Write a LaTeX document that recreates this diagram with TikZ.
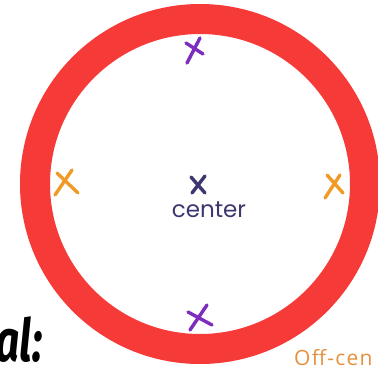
\documentclass[tikz,border=0pt]{standalone}
\usepackage{fontspec}
\setmainfont{Fira Sans}
\newfontfamily\labelfont[LetterSpace=6]{Open Sans}
\newfontfamily\handfont{Poppins}
\definecolor{ringred}{RGB}{245,58,56}
\definecolor{markpurple}{RGB}{125,45,190}
\definecolor{markorange}{RGB}{240,155,40}
\definecolor{marknavy}{RGB}{60,55,110}
\definecolor{textorange}{RGB}{230,145,65}
\tikzset{
  ringstyle/.style={draw=ringred, line width=30pt},
  crossstroke/.style={line width=3.4pt, line cap=round},
  purplemark/.style={crossstroke, draw=markpurple},
  orangemark/.style={crossstroke, draw=markorange},
  navymark/.style={crossstroke, draw=marknavy},
}
\begin{document}
\begin{tikzpicture}[x=1pt,y=-1pt]
\useasboundingbox (0,0) rectangle (378,370);
\clip (0,0) rectangle (378,370);
\fill[white] (0,0) rectangle (378,370);
% ring
\coordinate (c) at (200,184);
\draw[ringstyle] (c) circle[radius=165pt];
% marks
\coordinate (top) at (194,50);
\coordinate (bottom) at (200,317);
\coordinate (left) at (66,183);
\coordinate (right) at (334,186);
\coordinate (mid) at (198,185);
\draw[purplemark] (top) ++(6,-12) -- ++(-13,25);
\draw[purplemark] (top) ++(-8,-7) -- ++(17,11);
\draw[purplemark] (bottom) ++(7,-12) -- ++(-17,25);
\draw[purplemark] (bottom) ++(-12,-5) -- ++(24,13);
\draw[orangemark] (left) ++(6,-13) -- ++(-17,25);
\draw[orangemark] (left) ++(-9,-10) -- ++(21,20);
\draw[orangemark] (right) ++(6,-11) -- ++(-15,23);
\draw[orangemark] (right) ++(-7,-11) -- ++(16,18);
\draw[navymark] (mid) ++(7,-9) -- ++(-13,17);
\draw[navymark] (mid) ++(-7,-8) -- ++(14,16);
% texts
\node[anchor=base, text=marknavy, font=\handfont\fontsize{23}{23}\selectfont, inner sep=0] (centerlabel) at (209,217) {center};
\node[anchor=base east, text=black, font=\bfseries\itshape\fontsize{59}{59}\selectfont, inner sep=0] (goal) at (43,361) {\scalebox{0.72}[1]{al:}};
\node[anchor=base west, text=textorange, font=\labelfont\fontsize{21}{21}\selectfont, inner sep=0] (offcenter) at (294,365) {Off-cen};
\end{tikzpicture}
\end{document}
